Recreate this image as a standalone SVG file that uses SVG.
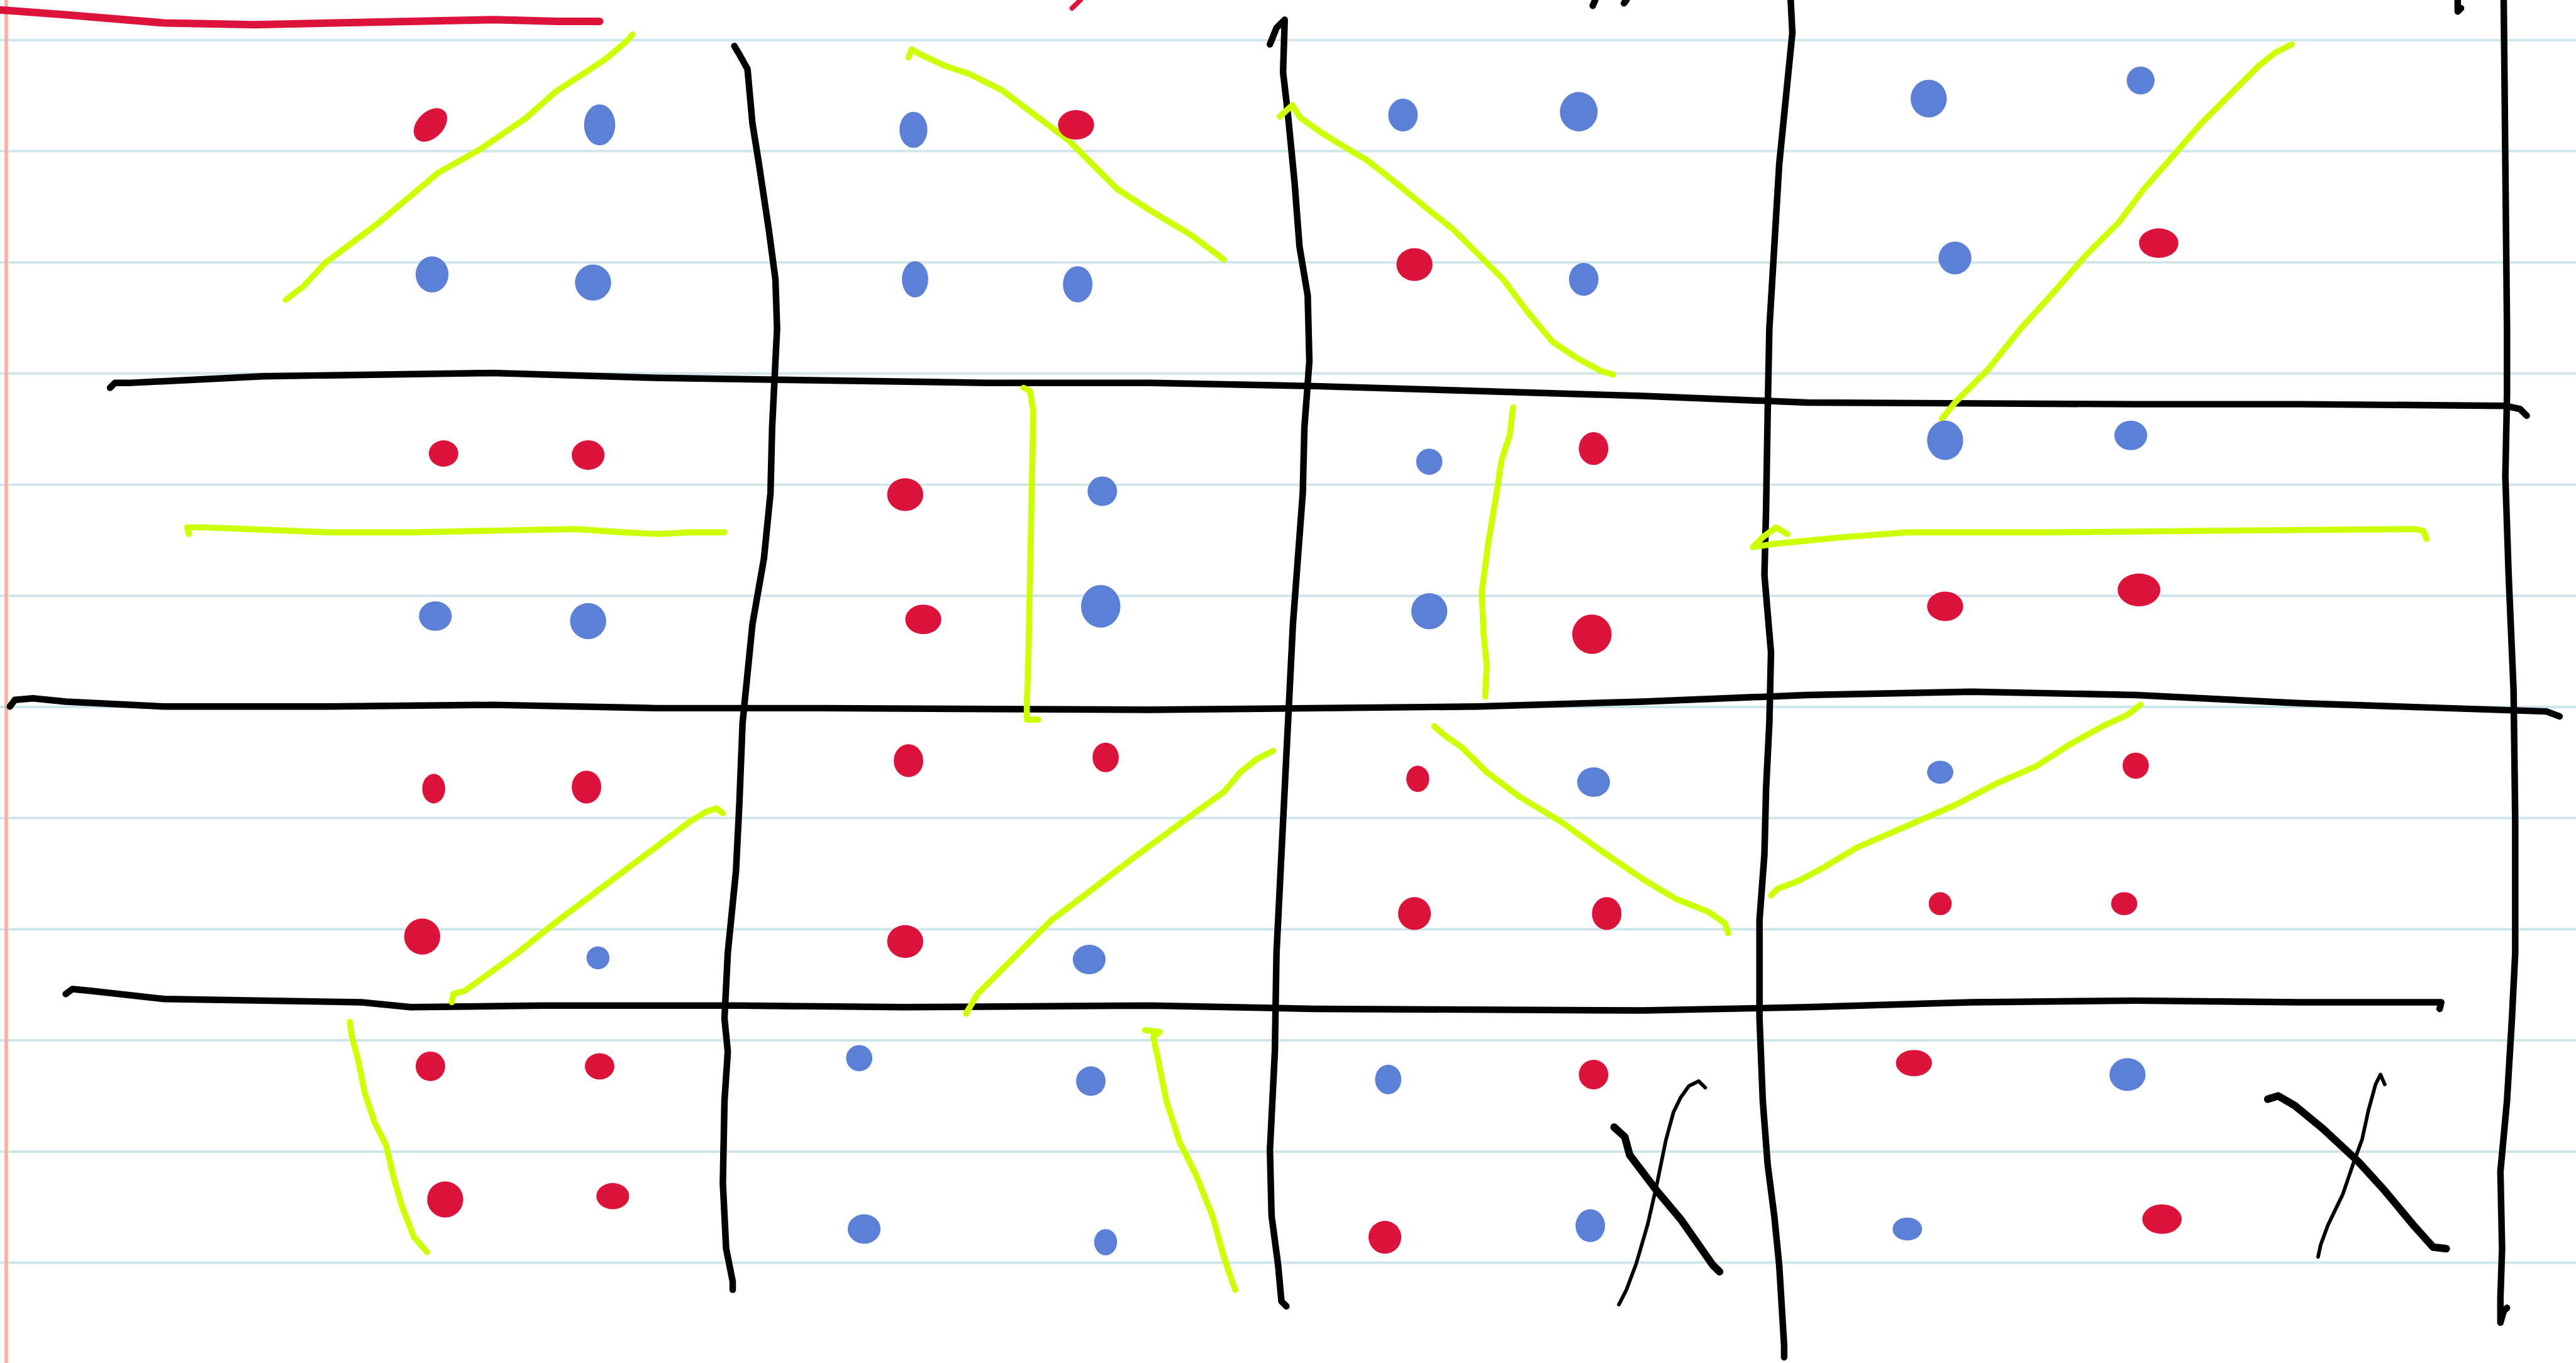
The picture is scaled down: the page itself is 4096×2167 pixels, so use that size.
<svg xmlns="http://www.w3.org/2000/svg" width="4096" height="2167" viewBox="0 0 4096 2167">
<style>
.rule{stroke:#cfe5ec;stroke-width:1.5;fill:none}
.margin{stroke:#f7b49c;stroke-width:2.2;fill:none}
.blk{stroke:#000;stroke-width:4;fill:none;stroke-linecap:round;stroke-linejoin:round}
.thin{stroke:#000;stroke-width:2.2;fill:none;stroke-linecap:round;stroke-linejoin:round}
.thick{stroke:#000;stroke-width:4.6;fill:none;stroke-linecap:round;stroke-linejoin:round}
.lime{stroke:#ccff00;stroke-width:3.7;fill:none;stroke-linecap:round;stroke-linejoin:round}
.redl{stroke:#dc143c;stroke-width:4.6;fill:none;stroke-linecap:round;stroke-linejoin:round}
.r{fill:#dc143c}
.b{fill:#5b80d6}
</style>
<rect width="4096" height="2167" fill="#ffffff"/>
<g transform="scale(2.61224)">
<g id="paper">
<path class="rule" d="M0,24.4H1568M0,92H1568M0,159.7H1568M0,227.3H1568M0,295H1568M0,362.6H1568M0,430.3H1568M0,497.9H1568M0,565.6H1568M0,633.2H1568M0,700.9H1568M0,768.5H1568"/>
<path class="margin" d="M3.8,0V830"/>
</g>
<g id="strokes-black">
<path class="blk" d="M67,236 L70,233 L80,233 L160,229 L300,227 L400,230 L600,233 L700,233 L800,235 L1000,241 L1100,245 L1300,246 L1400,246 L1525,247 L1534,249 L1538,253"/>
<path class="blk" d="M6,430 L9,426 L20,425 L40,427 L100,430 L200,430 L300,429 L400,431 L500,431 L700,432 L900,430 L1000,427 L1100,423 L1200,421 L1300,423 L1400,428 L1550,433 L1558,436"/>
<path class="blk" d="M40,605 L44,602 L55,603 L100,608 L220,610 L250,613 L330,612 L450,612 L550,613 L700,612 L800,614 L1000,615 L1100,613 L1200,610 L1300,609 L1400,610 L1486,610 L1485,614"/>
<path class="blk" d="M447,28 L450,33 L455,42 L458,75 L462,100 L468,140 L472,170 L473,200 L470,260 L469,300 L465,340 L458,380 L455,410 L452,440 L450,490 L448,530 L443,580 L441,620 L443,640 L441,670 L440,720 L442,760 L446,780 L446,785"/>
<path class="blk" d="M773,27 L777,17 L782,12 L781,44 L784,70 L788,111 L791,150 L796,180 L797,220 L794,260 L793,300 L790,340 L787,380 L785,420 L783,460 L781,500 L779,540 L777,580 L776,640 L773,700 L774,740 L778,770 L780,792 L783,795"/>
<path class="blk" d="M1090,0 L1091,20 L1088,50 L1083,100 L1080,150 L1077,200 L1076,250 L1075,310 L1074,350 L1078,397 L1077,440 L1075,480 L1074,520 L1071,560 L1071,620 L1073,670 L1076,709 L1080,740 L1083,770 L1086,819 L1086,826"/>
<path class="blk" d="M1524,0 L1525,100 L1526,200 L1526,240 L1525,290 L1527,350 L1530,420 L1531,500 L1531,580 L1529,620 L1526,670 L1522,713 L1523,760 L1522,790 L1522,805 L1524,798 L1526,796"/>
<path class="blk" d="M969.5,3.5 L971,0"/>
<path class="blk" d="M988.5,2 L990,0"/>
<path class="blk" d="M1496,0 L1496,7 L1498,5"/>
<path class="thick" d="M982.5,686 L989,692 L992,703 L1008.7,725 L1023,742 L1042.6,770 L1046.7,774"/>
<path class="thin" d="M1038,662 L1034,658 L1028,661 L1023,668 L1018.6,677 L1014,694 L1008.7,720 L1003,745 L996,769 L990,785 L985.4,794"/>
<path class="thick" d="M1380.4,669 L1386.7,667 L1397,673 L1414,687 L1435.5,707 L1451,724 L1469,745.6 L1481,759 L1489,760"/>
<path class="thin" d="M1451.6,660 L1449,654 L1446,660 L1441.6,676 L1437.8,693.5 L1432.5,708 L1426,727 L1417,745.6 L1412.6,757.6 L1411,765"/>
</g>
<g id="strokes-red">
<path class="redl" d="M0,6 L40,9 L100,14 L155,15 L250,13 L300,12 L340,13 L365,13"/>
<path class="redl" style="stroke-width:3" d="M652.5,5 L657.7,0"/>
</g>
<g id="strokes-lime">
<path class="lime" d="M174,182.5 L185,174 L198,160 L230,136 L267,105 L292,91 L320,72 L338,56 L368.6,36 L381,25.5 L385,21"/>
<path class="lime" d="M553,35 L555,30 L560,33 L575,40 L590,45 L610,55 L630,70 L650,85 L665,100 L680,115 L700,128 L725,143 L745,158"/>
<path class="lime" d="M779,71 L786.6,64 L791.5,71.6 L804,80.5 L817,88.6 L832,97.4 L849,110.7 L870,128 L885,140 L900,155 L915,170 L930,190 L945,208 L960,218 L975,226 L982,228"/>
<path class="lime" d="M1182,255 L1190,245 L1210,225 L1230,200 L1250,178 L1270,155 L1290,135 L1305,115 L1320,98 L1340,75 L1360,55 L1375,40 L1385,32 L1395,27"/>
<path class="lime" d="M115,325 L114,321 L125,321 L150,322 L200,324 L250,324 L300,323 L350,322 L380,324 L400,325 L420,324 L441,324"/>
<path class="lime" d="M623,236 L627,238 L629,250 L628,300 L627,350 L626,400 L625,430 L625,438 L632,438"/>
<path class="lime" d="M921,248 L919,265 L914,280 L911,300 L906,330 L902,360 L903,385 L905,405 L904,424"/>
<path class="lime" d="M1088,325 L1081,321 L1073,327 L1067,333 L1080,331 L1121,327 L1161,324 L1250,324 L1350,323 L1470,322 L1475,323 L1477,328"/>
<path class="lime" d="M440,495 L436,492 L430,494 L420,500 L400,515 L380,530 L360,545 L340,560 L315,580 L290,598 L283,603 L276,605 L275,610"/>
<path class="lime" d="M775,457 L765,462 L755,470 L745,482 L720,500 L690,522 L660,545 L640,560 L625,575 L610,590 L595,605 L588,617"/>
<path class="lime" d="M873,442 L880,448 L890,455 L905,470 L925,485 L950,500 L975,518 L1000,535 L1020,547 L1040,555 L1050,562 L1052,568"/>
<path class="lime" d="M1078,545 L1082,541 L1095,536 L1110,528 L1130,516 L1160,503 L1190,490 L1215,477 L1240,466 L1260,453 L1280,442 L1295,435 L1303,429"/>
<path class="lime" d="M213,622 L214,630 L218,645 L222,665 L228,683 L235,697 L240,718 L245,735 L252,753 L260,762"/>
<path class="lime" d="M697,627 L706,628 L702,631 L705,645 L710,670 L718,695 L728,715 L738,740 L745,765 L750,780 L752,785"/>
</g>
<g id="dots">
<ellipse class="r" cx="262" cy="76" rx="12" ry="8" transform="rotate(-45 262 76)"/>
<ellipse class="b" cx="365" cy="76" rx="9.5" ry="12.5"/>
<ellipse class="b" cx="556" cy="79" rx="8.5" ry="11"/>
<ellipse class="r" cx="655" cy="76" rx="11" ry="9"/>
<ellipse class="b" cx="854" cy="70" rx="9" ry="10"/>
<ellipse class="b" cx="961" cy="68" rx="11.5" ry="12"/>
<ellipse class="b" cx="1174" cy="60" rx="11" ry="11.5"/>
<ellipse class="b" cx="1303" cy="49" rx="8.5" ry="8.5"/>

<ellipse class="b" cx="263" cy="167" rx="10" ry="11"/>
<ellipse class="b" cx="361" cy="172" rx="11" ry="11"/>
<ellipse class="b" cx="557" cy="170" rx="8" ry="11"/>
<ellipse class="b" cx="656" cy="173" rx="9" ry="11"/>
<ellipse class="r" cx="861" cy="161" rx="11" ry="10"/>
<ellipse class="b" cx="964" cy="170" rx="9" ry="10"/>
<ellipse class="b" cx="1190" cy="157" rx="10" ry="10"/>
<ellipse class="r" cx="1314" cy="148" rx="12" ry="9"/>

<ellipse class="r" cx="270" cy="276" rx="9" ry="8"/>
<ellipse class="r" cx="358" cy="277" rx="10" ry="9"/>
<ellipse class="r" cx="551" cy="301" rx="11" ry="10"/>
<ellipse class="b" cx="671" cy="299" rx="9" ry="9"/>
<ellipse class="b" cx="870" cy="281" rx="8" ry="8"/>
<ellipse class="r" cx="970" cy="273" rx="9" ry="10"/>
<ellipse class="b" cx="1184" cy="268" rx="11" ry="12"/>
<ellipse class="b" cx="1297" cy="265" rx="10" ry="9"/>

<ellipse class="b" cx="265" cy="375" rx="10" ry="9"/>
<ellipse class="b" cx="358" cy="378" rx="11" ry="11"/>
<ellipse class="r" cx="562" cy="377" rx="11" ry="9"/>
<ellipse class="b" cx="670" cy="369" rx="12" ry="13"/>
<ellipse class="b" cx="870" cy="372" rx="11" ry="11"/>
<ellipse class="r" cx="969" cy="386" rx="12" ry="12"/>
<ellipse class="r" cx="1184" cy="369" rx="11" ry="9"/>
<ellipse class="r" cx="1302" cy="359" rx="13" ry="10"/>

<ellipse class="r" cx="264" cy="480" rx="7" ry="9"/>
<ellipse class="r" cx="357" cy="479" rx="9" ry="10"/>
<ellipse class="r" cx="553" cy="463" rx="9" ry="10"/>
<ellipse class="r" cx="673" cy="461" rx="8" ry="9"/>
<ellipse class="r" cx="863" cy="474" rx="7" ry="8"/>
<ellipse class="b" cx="970" cy="476" rx="10" ry="9"/>
<ellipse class="b" cx="1181" cy="470" rx="8" ry="7"/>
<ellipse class="r" cx="1300" cy="466" rx="8" ry="8"/>

<ellipse class="r" cx="257" cy="570" rx="11" ry="11"/>
<ellipse class="b" cx="364" cy="583" rx="7" ry="7"/>
<ellipse class="r" cx="551" cy="573" rx="11" ry="10"/>
<ellipse class="b" cx="663" cy="584" rx="10" ry="9"/>
<ellipse class="r" cx="861" cy="556" rx="10" ry="10"/>
<ellipse class="r" cx="978" cy="556" rx="9" ry="10"/>
<ellipse class="r" cx="1181" cy="550" rx="7" ry="7"/>
<ellipse class="r" cx="1293" cy="550" rx="8" ry="7"/>

<ellipse class="r" cx="262" cy="649" rx="9" ry="9"/>
<ellipse class="r" cx="365" cy="649" rx="9" ry="8"/>
<ellipse class="b" cx="523" cy="644" rx="8" ry="8"/>
<ellipse class="b" cx="664" cy="658" rx="9" ry="9"/>
<ellipse class="b" cx="845" cy="657" rx="8" ry="9"/>
<ellipse class="r" cx="970" cy="654" rx="9" ry="9"/>
<ellipse class="r" cx="1165" cy="647" rx="11" ry="8"/>
<ellipse class="b" cx="1295" cy="654" rx="11" ry="10"/>

<ellipse class="r" cx="271" cy="730" rx="11" ry="11"/>
<ellipse class="r" cx="373" cy="728" rx="10" ry="8"/>
<ellipse class="b" cx="526" cy="748" rx="10" ry="9"/>
<ellipse class="b" cx="673" cy="756" rx="7" ry="8"/>
<ellipse class="r" cx="843" cy="753" rx="10" ry="10"/>
<ellipse class="b" cx="968" cy="746" rx="9" ry="10"/>
<ellipse class="b" cx="1161" cy="748" rx="9" ry="7"/>
<ellipse class="r" cx="1316" cy="742" rx="12" ry="9"/>
</g>
</g>
</svg>
